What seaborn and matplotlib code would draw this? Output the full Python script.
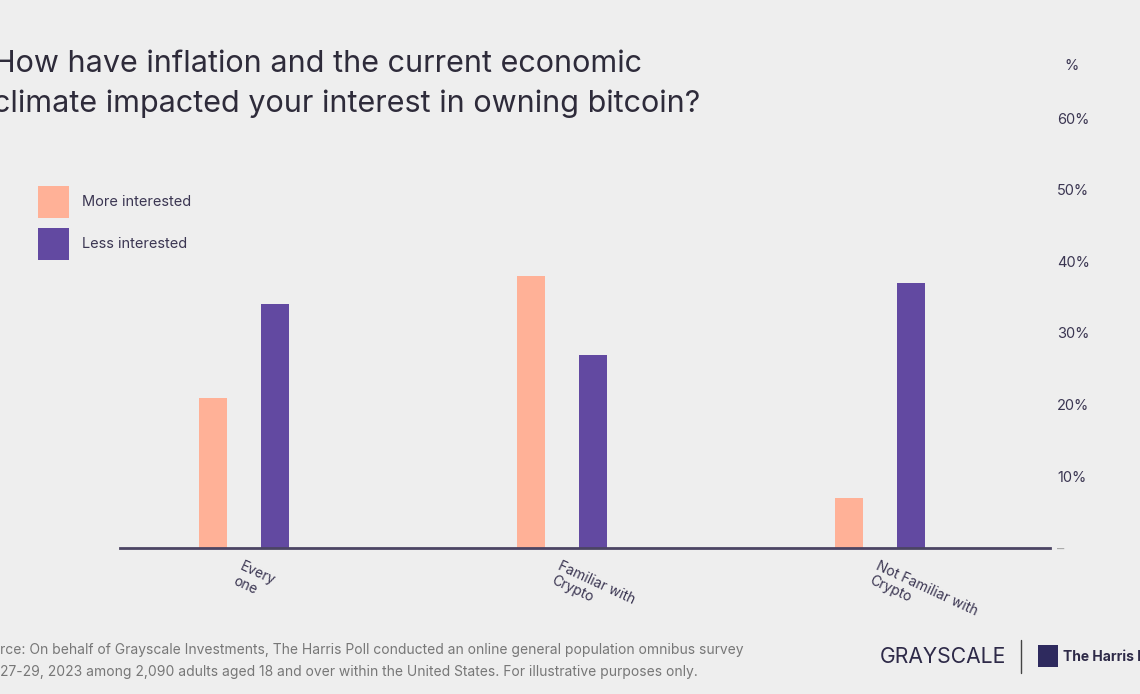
import matplotlib
matplotlib.use("Agg")
import matplotlib.pyplot as plt
import seaborn as sns
import pandas as pd
from matplotlib.patches import Rectangle, Patch
from matplotlib.lines import Line2D

categories = ["Every\none", "Familiar with\nCrypto", "Not Familiar with\nCrypto"]
series_names = ["More interested", "Less interested"]
more_interested = [21, 38, 7]
less_interested = [34, 27, 37]
ytick_vals = [0, 10, 20, 30, 40, 50, 60]
ytick_labels = ["–", "10%", "20%", "30%", "40%", "50%", "60%"]

BG = "#EEEEEE"
PEACH = "#FFB197"
PURPLE = "#6249A1"
TXT = "#3B3652"

df = pd.DataFrame({
    "category": categories * 2,
    "series": [series_names[0]] * 3 + [series_names[1]] * 3,
    "value": more_interested + less_interested,
})

sns.set_theme(style="white")
plt.rcParams["font.family"] = ["Inter", "DejaVu Sans"]

fig = plt.figure(figsize=(11.4, 6.94), dpi=100, facecolor=BG)
ax = fig.add_axes([120 / 1140, 1 - 548 / 694, 930 / 1140, (548 - 118) / 694])
ax.set_facecolor(BG)

sns.barplot(data=df, x="category", y="value", hue="series",
            palette=[PEACH, PURPLE], width=0.39, gap=0.56, saturation=1,
            order=categories, hue_order=series_names, ax=ax, legend=False,
            edgecolor="none")

ax.set_xlim(-0.39, 2.535)
ax.set_ylim(0, 60)
for s in ["top", "left", "right"]:
    ax.spines[s].set_visible(False)
ax.spines["bottom"].set_color("#4B4463")
ax.spines["bottom"].set_linewidth(2)
ax.set_xlabel("")
ax.set_ylabel("")

ax.yaxis.tick_right()
ax.set_yticks(ytick_vals)
ax.set_yticklabels(ytick_labels)
ax.tick_params(axis="y", length=0, pad=5, labelsize=10.5, labelcolor=TXT)
ax.get_yticklabels()[0].set_color("#AAAAAA")

ax.tick_params(axis="x", length=0, pad=8, labelsize=10, labelcolor=TXT)
for lab in ax.get_xticklabels():
    lab.set_rotation(-25)
    lab.set_ha("left")
    lab.set_va("top")
    lab.set_rotation_mode("anchor")

ax.text(1072 / 1140, 1 - 66 / 694, "%", transform=fig.transFigure,
        ha="center", va="center", fontsize=10.5, color=TXT)

# Title
fig.text(-0.006, 1 - 64 / 694, "How have inflation and the current economic",
         ha="left", va="center", fontsize=22, color="#2E2B3A")
fig.text(-0.006, 1 - 104 / 694, "climate impacted your interest in owning bitcoin?",
         ha="left", va="center", fontsize=22, color="#2E2B3A")

# Legend
handles = [Patch(facecolor=PEACH, edgecolor="none"),
           Patch(facecolor=PURPLE, edgecolor="none")]
leg = fig.legend(handles, series_names, loc="upper left",
                 bbox_to_anchor=(25 / 1140, 1 - 173 / 694), frameon=False,
                 fontsize=10.5, handlelength=2.1, handleheight=3.0,
                 labelspacing=0.68, handletextpad=0.9, labelcolor=TXT)

# Footer
fig.text(0.0, 1 - 650 / 694,
         "rce: On behalf of Grayscale Investments, The Harris Poll conducted an online general population omnibus survey",
         ha="left", va="center", fontsize=10, color="#777777")
fig.text(0.0, 1 - 672 / 694,
         "27-29, 2023 among 2,090 adults aged 18 and over within the United States. For illustrative purposes only.",
         ha="left", va="center", fontsize=10, color="#777777")

fig.text(880 / 1140, 1 - 657 / 694, "GRAYSCALE", ha="left", va="center",
         fontsize=15.2, color="#2E2A48")
fig.add_artist(Line2D([1021 / 1140, 1021 / 1140], [1 - 640 / 694, 1 - 673 / 694],
                      transform=fig.transFigure, color="#444444", lw=1))
fig.add_artist(Rectangle((1038 / 1140, 1 - 667 / 694), 20 / 1140, 22 / 694,
                         transform=fig.transFigure, facecolor="#2E2A5E", edgecolor="none"))
fig.text(1063 / 1140, 1 - 657 / 694, "The Harris Poll", ha="left", va="center",
         fontsize=10, fontweight="bold", color="#2E2A48")

fig.savefig("out.png", dpi=100, facecolor=BG)
